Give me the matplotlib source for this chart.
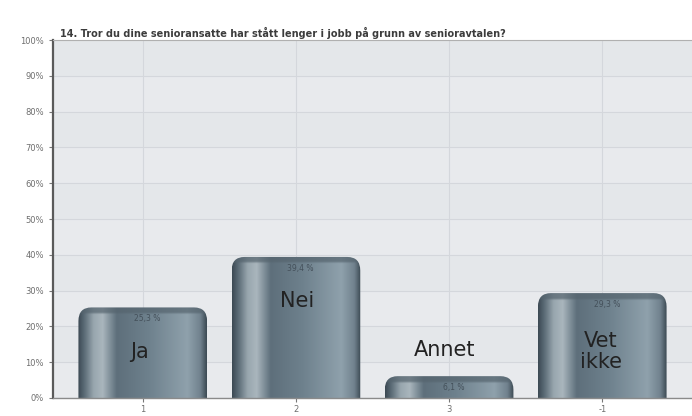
# Stolpediagram for spørsmål 14 i seniorundersøkelsen, med gradert fyll på stolpene

import numpy as np
import matplotlib.pyplot as plt
from matplotlib.path import Path
from matplotlib.patches import PathPatch
from matplotlib.colors import to_rgb

question = "14. Tror du dine senioransatte har stått lenger i jobb på grunn av senioravtalen?"
tick_labels = ["1", "2", "3", "-1"]
answers = ["Ja", "Nei", "Annet", "Vet\nikke"]
percent = [25.3, 39.4, 6.1, 29.3]
value_labels = ["25,3 %", "39,4 %", "6,1 %", "29,3 %"]

# Posisjon for svartekstene (x, y i prosent)
answer_pos = [(-0.02, 12.8), (1.01, 27.0), (1.97, 13.4), (2.99, 13.0)]

# Fargeprofil på tvers av stolpen (0 = venstre kant, 1 = høyre kant)
stops = [0.0, 0.05, 0.12, 0.19, 0.25, 0.3, 0.55, 0.85, 0.95, 1.0]
stop_colors = ["#3c4a54", "#5d6d78", "#98a6ae", "#aab6bd", "#7f8f99",
               "#5e6f7b", "#6e818d", "#8fa1ac", "#71828e", "#3c4a54"]


def bar_path(x0, x1, h, rx, ry):
    """Stolpe med avrundede hjørner bare i toppen."""
    verts = [(x0, 0), (x0, h - ry), (x0, h), (x0 + rx, h),
             (x1 - rx, h), (x1, h), (x1, h - ry), (x1, 0), (x0, 0)]
    codes = [Path.MOVETO, Path.LINETO, Path.CURVE3, Path.CURVE3,
             Path.LINETO, Path.CURVE3, Path.CURVE3, Path.LINETO, Path.CLOSEPOLY]
    return Path(verts, codes)


def bar_image(h, cap):
    """RGB-bilde for gradienten, mørkere bånd øverst."""
    t = np.linspace(0, 1, 240)
    rgb = np.array([to_rgb(c) for c in stop_colors])
    row = np.stack([np.interp(t, stops, rgb[:, k]) for k in range(3)], axis=-1)
    rows = 300
    y = np.linspace(h, 0, rows)
    img = np.repeat(row[None, :, :], rows, axis=0)
    top = np.array(to_rgb("#55646e"))
    # mykt overgang fra toppbåndet ned i stolpen
    w = np.clip((y - (h - cap)) / 0.6, 0, 1)[:, None, None] * 0.7
    img = img * (1 - w) + top * w
    return img


def draw_chart():
    fig = plt.figure(figsize=(6.92, 4.16), dpi=100)
    ax = fig.add_axes([0.0766, 0.0433, 0.9234, 0.8605])
    ax.set_facecolor("#e4e7ea")

    x = np.arange(len(percent))
    ax.set_xlim(-0.586, 3.586)
    ax.set_ylim(0, 100)

    # svake bånd mellom rutenettlinjene
    for lo in range(0, 100, 20):
        ax.axhspan(lo, lo + 10, color="#e8eaed", zorder=0, lw=0)

    ax.set_axisbelow(True)
    ax.grid(True, color="#d4d7dc", lw=0.8)

    width = 0.84
    rx, ry = 0.085, 3.8
    for xi, h in zip(x, percent):
        x0, x1 = xi - width / 2, xi + width / 2
        patch = PathPatch(bar_path(x0, x1, h, rx, ry), facecolor="none",
                          edgecolor="none", zorder=2)
        ax.add_patch(patch)
        im = ax.imshow(bar_image(h, 2.0), extent=(x0, x1, 0, h),
                       aspect="auto", interpolation="bilinear", zorder=2)
        im.set_clip_path(patch)

    for xi, h, lab in zip(x, percent, value_labels):
        ax.annotate(lab, (xi + 0.03, h), xytext=(0, -8), textcoords="offset points",
                    ha="center", va="center", fontsize=5.5, color="#44505a", zorder=3)

    for (ax_x, ax_y), txt in zip(answer_pos, answers):
        ax.text(ax_x, ax_y, txt, ha="center", va="center", fontsize=15,
                color="#222222", linespacing=1.05, zorder=3)

    ax.set_xticks(x)
    ax.set_xticklabels(tick_labels)
    ax.set_yticks(np.arange(0, 101, 10))
    ax.set_yticklabels([f"{v}%" for v in range(0, 101, 10)])
    ax.tick_params(axis="both", labelsize=6, labelcolor="#6e6e6e",
                   color="#777777", length=3, width=0.8)
    ax.tick_params(axis="x", pad=2)

    ax.spines["left"].set_color("#5a5a5a")
    ax.spines["left"].set_linewidth(1.6)
    ax.spines["bottom"].set_color("#8a8a8a")
    ax.spines["bottom"].set_linewidth(1.0)
    ax.spines["top"].set_color("#b0b0b0")
    ax.spines["top"].set_linewidth(0.8)
    ax.spines["right"].set_visible(False)

    fig.text(0.0867, 0.921, question, fontsize=7, color="#3c3c3c",
             fontweight="bold", ha="left", va="center")

    fig.savefig("out.png", dpi=100)
    plt.close(fig)


def main():
    draw_chart()


if __name__ == "__main__":
    main()
